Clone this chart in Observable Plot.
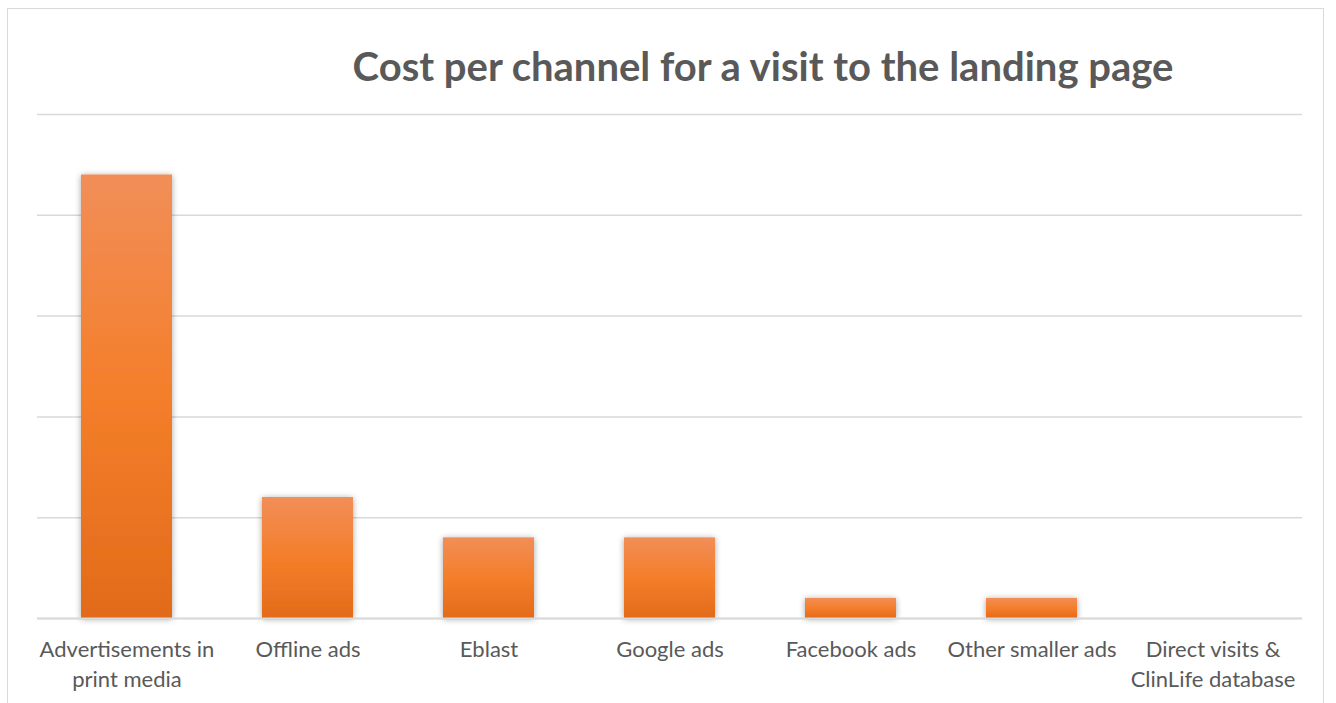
<!DOCTYPE html>
<html>
<head>
<meta charset="utf-8">
<script src="https://cdn.jsdelivr.net/npm/d3@7"></script>
<script src="https://cdn.jsdelivr.net/npm/@observablehq/plot@0.6"></script>
<style>
  html, body { margin: 0; padding: 0; background: #fff; overflow: hidden; }
  #wrap { position: relative; width: 1336px; height: 703px; overflow: hidden; }
  #frame { position: absolute; left: 7px; top: 8px; width: 1317px; height: 760px; border: 1.5px solid #d9d9d9; box-sizing: border-box; }
  #title { position: absolute; left: 0; top: 39px; width: 1336px; padding-left: 190px; box-sizing: border-box; text-align: center;
           font-family: Lato, "Open Sans", sans-serif; font-weight: bold; font-size: 40px; color: #595959; line-height: 54px; white-space: nowrap; }
  #chart { position: absolute; left: 0; top: 0; }
</style>
</head>
<body>
<div id="wrap">
  <div id="frame"></div>
  <div id="chart"></div>
  <div id="title">Cost per channel for a visit to the landing page</div>
</div>
<script>
const categories = [
  "Advertisements in\nprint media",
  "Offline ads",
  "Eblast",
  "Google ads",
  "Facebook ads",
  "Other smaller ads",
  "Direct visits &\nClinLife database"
];
const costs = [4.4, 1.2, 0.8, 0.8, 0.2, 0.2, 0];
const gridTicks = [0, 1, 2, 3, 4, 5];

const data = categories.map((c, i) => ({category: c, cost: costs[i]}));

const svg = Plot.plot({
  width: 1336,
  height: 703,
  marginLeft: 37,
  marginRight: 34,
  marginTop: 114,
  marginBottom: 85,
  style: {fontFamily: "Lato, 'Open Sans', sans-serif", fontSize: "22px", color: "#595959", background: "transparent"},
  x: {domain: categories, paddingInner: 0.495, paddingOuter: 0.235, label: null},
  y: {domain: [0, 5], axis: null},
  marks: [
    Plot.ruleY(gridTicks, {stroke: "#d9d9d9", strokeWidth: 1.5}),
    Plot.barY(data, {x: "category", y: "cost", fill: "url(#barGrad)"}),
    Plot.ruleY([0], {stroke: "#d9d9d9", strokeWidth: 2}),
    Plot.axisX({tickSize: 0, tickPadding: 17, lineHeight: 1.36, fill: "#595959", fontSize: 22, label: null})
  ]
});

const s = d3.select(svg);
const defs = s.insert("defs", ":first-child");
const g = defs.append("linearGradient").attr("id", "barGrad").attr("x1", 0).attr("y1", 0).attr("x2", 0).attr("y2", 1);
g.append("stop").attr("offset", "0%").attr("stop-color", "#F18E58");
g.append("stop").attr("offset", "50%").attr("stop-color", "#F47E2A");
g.append("stop").attr("offset", "100%").attr("stop-color", "#E26B1A");
const f = defs.append("filter").attr("id", "shadow").attr("x", "-20%").attr("y", "-20%").attr("width", "140%").attr("height", "140%");
f.append("feDropShadow").attr("dx", 0).attr("dy", 1).attr("stdDeviation", 3).attr("flood-color", "#000").attr("flood-opacity", 0.35);
s.selectAll("g[aria-label='bar']").attr("filter", "url(#shadow)");

document.getElementById("chart").appendChild(svg);
</script>
</body>
</html>
